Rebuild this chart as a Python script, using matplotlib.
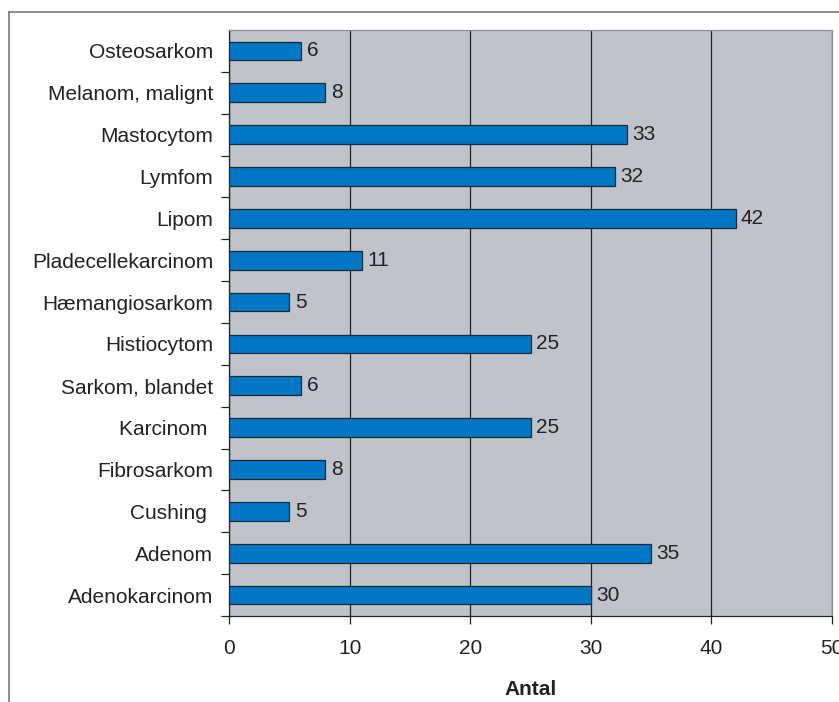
import matplotlib
matplotlib.use("Agg")
import matplotlib.pyplot as plt
from matplotlib.lines import Line2D

categories = ["Adenokarcinom", "Adenom", "Cushing ", "Fibrosarkom", "Karcinom ",
              "Sarkom, blandet", "Histiocytom", "Hæmangiosarkom", "Pladecellekarcinom",
              "Lipom", "Lymfom", "Mastocytom", "Melanom, malignt", "Osteosarkom"]
values = [30, 35, 5, 8, 25, 6, 25, 5, 11, 42, 32, 33, 8, 6]
xticks = [0, 10, 20, 30, 40, 50]

plt.rcParams["font.family"] = ["Liberation Sans", "DejaVu Sans"]
FS = 15

fig = plt.figure(figsize=(8.39, 7.02), dpi=100)
ax = fig.add_axes([229 / 839, 1 - 616 / 702, (832 - 229) / 839, (616 - 30) / 702])
ax.set_facecolor("#C0C3CA")

ypos = list(range(len(categories)))
ax.barh(ypos, values, height=0.45, color="#0077C4", edgecolor="#1a2a3a",
        linewidth=0.9, zorder=3)
for y, v in zip(ypos, values):
    ax.text(v + 0.45, y, str(v), va="center", ha="left", fontsize=FS,
            color="#222222", zorder=4)

ax.set_xlim(0, 50)
ax.set_ylim(-0.5, len(categories) - 0.5)
ax.set_xticks(xticks)
ax.set_xticklabels([str(t) for t in xticks], fontsize=FS, color="#222222")
ax.xaxis.grid(True, color="#222222", linewidth=0.9, zorder=1)
ax.set_axisbelow(True)

ax.set_yticks(ypos)
ax.set_yticklabels(categories, fontsize=FS, color="#222222")
ax.set_yticks([y + 0.5 for y in ypos[:-1]] + [-0.5], minor=True)
ax.tick_params(axis="y", which="major", length=0, pad=11.5)
ax.tick_params(axis="y", which="minor", length=6, width=0.9, color="#222222")
ax.tick_params(axis="x", length=6, width=0.9, color="#222222", pad=10.5)

ax.spines["left"].set_color("#222222")
ax.spines["bottom"].set_color("#222222")
ax.spines["top"].set_color("#8a8e96")
ax.spines["right"].set_color("#8a8e96")
for s in ax.spines.values():
    s.set_linewidth(0.9)

ax.set_xlabel("Antal", fontsize=FS, fontweight="bold", labelpad=16, color="#222222")

# outer chart border
fig.add_artist(Line2D([9 / 839, 1], [1 - 12 / 702, 1 - 12 / 702],
                      transform=fig.transFigure, color="#7a7a7a", linewidth=1.2))
fig.add_artist(Line2D([9 / 839, 9 / 839], [0, 1 - 12 / 702],
                      transform=fig.transFigure, color="#7a7a7a", linewidth=1.2))

fig.savefig("out.png", dpi=100)
